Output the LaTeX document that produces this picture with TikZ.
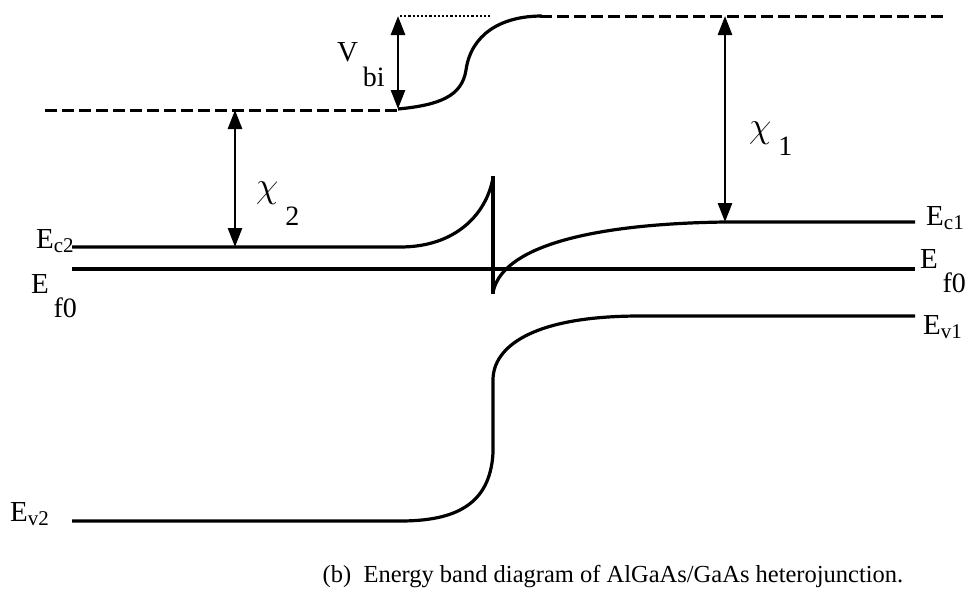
\documentclass[tikz,border=0pt]{standalone}
\usepackage{graphicx}
\usepackage{fontspec}
\setmainfont{Liberation Serif}
\usetikzlibrary{arrows.meta}

\newcommand{\lowsub}[2]{\raisebox{#1}{\fontsize{28}{30}\selectfont #2}}
\newcommand{\esub}[1]{\raisebox{-4pt}{\fontsize{21}{24}\selectfont #1}}
\newcommand{\bigchi}{\scalebox{1.75}{$\chi$}}

\tikzset{
  band/.style={line width=3.2pt},
  level/.style={line width=3pt,dash pattern=on 12pt off 5pt},
  gap/.style={line width=2.8pt,{Triangle[length=19pt,width=14pt]}-{Triangle[length=19pt,width=14pt]}},
  lbl/.style={anchor=base west,inner sep=0pt,font=\fontsize{29}{32}\selectfont},
  greek/.style={anchor=base west,inner sep=0pt,font=\fontsize{20}{24}\selectfont}
}

\begin{document}
\begin{tikzpicture}[x=1pt,y=-1pt]
\useasboundingbox (0,0) rectangle (973,598);
% vacuum levels
\draw[level] (45,110) -- (398,110);
\draw[line width=2.2pt,dotted] (400,16) -- (490,16);
\draw[level] (540,16) -- (945,16);
\draw[band] (398,109) .. controls (440,105) and (462,96) .. (466,70)
  .. controls (471,35) and (500,16) .. (542,16);
% conduction band
\draw[band] (72,247) -- (400,247) .. controls (455,247) and (486,215) .. (493,178);
\draw[band] (493,176) -- (493,294);
\draw[band] (493,293) .. controls (500,250) and (580,224) .. (725,222) -- (915,222);
% fermi level
\draw[band] (72,269) -- (915,269);
% valence band
\draw[band] (72,521) -- (400,521) .. controls (455,521) and (490,505) .. (493,453)
  -- (493,380) .. controls (493,348) and (530,316) .. (640,316) -- (915,316);
% band offsets
\coordinate (vbtop) at (398,16);
\coordinate (vbbot) at (398,109);
\coordinate (chi2top) at (235,110);
\coordinate (chi2bot) at (235,247);
\coordinate (chi1top) at (725,16);
\coordinate (chi1bot) at (725,222);
\draw[gap] (vbtop) -- (vbbot);
\draw[gap] (chi2top) -- (chi2bot);
\draw[gap] (chi1top) -- (chi1bot);
% labels
\node[lbl] (vbi) at (337,61) {V\lowsub{-25pt}{\,bi}};
\node[greek] (chi2) at (256,197) {\bigchi\lowsub{-28pt}{\ 2}};
\node[greek] (chi1) at (749,137) {\bigchi\lowsub{-18pt}{\ 1}};
\node[lbl] (ec2) at (36,248) {E\esub{c2}};
\node[lbl] (ef0l) at (31,293) {E\lowsub{-24pt}{\,f0}};
\node[lbl] (ev2) at (10,521) {E\esub{v2}};
\node[lbl] (ec1) at (926,225) {E\esub{c1}};
\node[lbl] (ef0r) at (920,268) {E\lowsub{-24pt}{\,f0}};
\node[lbl] (ev1) at (923,334) {E\esub{v1}};
\node[anchor=base,inner sep=0pt,font=\fontsize{24.5}{28}\selectfont] (cap) at (613,582)
  {(b)\ \ Energy band diagram of AlGaAs/GaAs heterojunction.};
\end{tikzpicture}
\end{document}
